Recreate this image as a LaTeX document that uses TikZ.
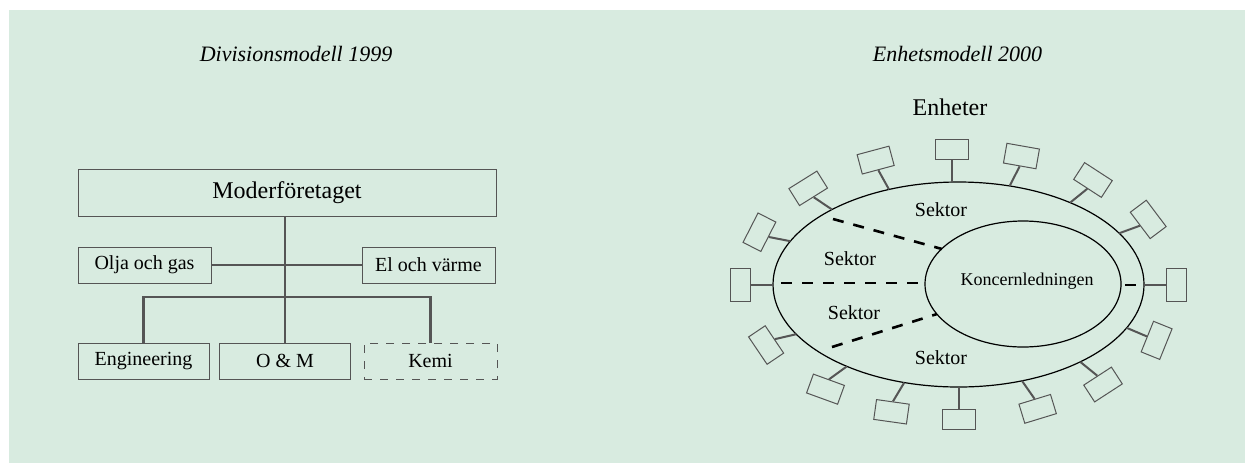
\documentclass[tikz,border=0pt]{standalone}
\usepackage{fontspec}
\setmainfont{Liberation Serif}
\usetikzlibrary{calc,shapes}
\definecolor{bggreen}{RGB}{216,235,224}
\definecolor{linegray}{RGB}{85,85,85}

\begin{document}
\begin{tikzpicture}[x=0.5pt,y=0.5pt,
    box/.style={draw=linegray,line width=0.5pt,minimum height=18pt,inner sep=0pt,
      font=\fontsize{10}{12}\selectfont},
    link/.style={draw=linegray,line width=1.2pt},
    unit/.style={draw=linegray,line width=0.5pt,minimum width=16.5pt,minimum height=10pt,inner sep=0pt},
    stem/.style={draw=linegray,line width=1pt},
    divider/.style={line width=1.3pt,dash pattern=on 5.5pt off 5pt},
    sektor/.style={font=\fontsize{10}{12}\selectfont}]
    \useasboundingbox (0,0) rectangle (1245,463);
    \fill[bggreen] (9,0) rectangle (1245,453);
    % divisionsmodell
    \node[font=\fontsize{11}{13}\itshape] (titleA) at (296,409) {Divisionsmodell 1999};
    \node[box,minimum width=209pt,minimum height=23.5pt,font=\fontsize{12}{14}\selectfont] (mother) at (287,270.5) {Moderföretaget};
    \node[box,minimum width=66.5pt] (olja) at (144.5,198) {Olja och gas};
    \node[box,minimum width=66.5pt] (el) at (428.5,198) {El och värme};
    \node[box,minimum width=65.5pt] (eng) at (143.5,102) {Engineering};
    \node[box,minimum width=65.5pt] (om) at (285,102) {O \& M};
    \node[box,minimum width=66.5pt,dash pattern=on 4pt off 4pt] (kemi) at (430.5,102) {Kemi};
    \coordinate (bus) at (285,166);
    \draw[link] (om.north) -- (om.north |- mother.south);
    \draw[link] (olja.east) -- (el.west);
    \draw[link] (eng.north) |- (bus) -| (kemi.north);
    % enhetsmodell
    \node[font=\fontsize{11}{13}\itshape] (titleB) at (957.5,409) {Enhetsmodell 2000};
    \node[font=\fontsize{12}{14}\selectfont] (enheter) at (950,356) {Enheter};
    \coordinate (ring) at (958.5,178.5);
    \coordinate (core) at (1023,179);
    \draw[line width=0.6pt] (ring) ellipse [x radius=185.5, y radius=102.5];
    \draw[line width=0.6pt] (core) ellipse [x radius=98, y radius=63];
    \node[font=\fontsize{9}{11}\selectfont] (ledning) at (1027,182) {Koncernledningen};
    \node[sektor] (sekA) at (941,253) {Sektor};
    \node[sektor] (sekB) at (850,204) {Sektor};
    \node[sektor] (sekC) at (854,150) {Sektor};
    \node[sektor] (sekD) at (941,105) {Sektor};
    \draw[divider] (833,244) -- (942,214);
    \draw[divider] (781,180) -- (924,180);
    \draw[divider] (832,116) -- (937,149);
    \draw[divider] (1125,178) -- (1137,178);
    \foreach \t/\d/\r [count=\i] in {133/146/32, 112/119/15, 92/90/0, 74/63/-10,
        53/39/-33, 30/20/-53, 0/0/-90, -25/-23/-112, -49/-39/-147, -70/-55/-163,
        -90/-90/180, -107/-121/172, -127/-144/160, -151/-167/124, 180/180/90, 155/169/63} {
      \coordinate (p\i) at ($(ring)+(\t:185.5 and 102.5)$);
      \node[unit,rotate=\r,anchor=south] (u\i) at ($(p\i)+(\d:22)$) {};
      \draw[stem] (p\i) -- (u\i.south);
    }
  \end{tikzpicture}
\end{document}
